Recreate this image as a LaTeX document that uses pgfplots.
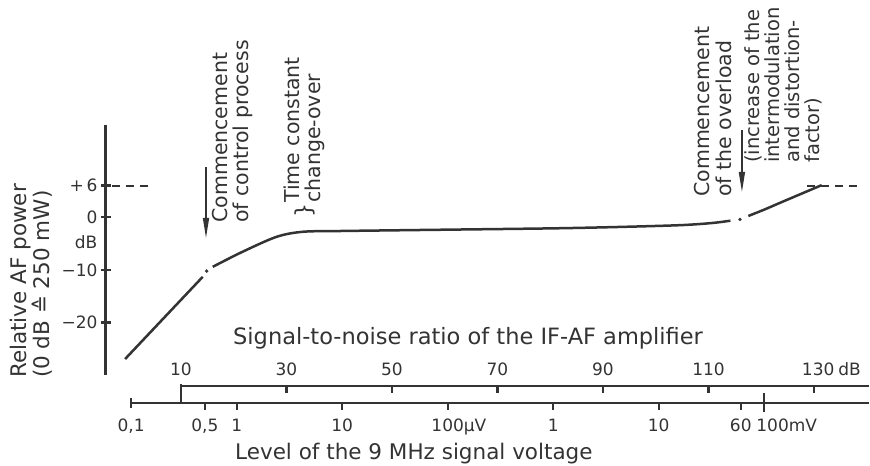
\documentclass[border=0pt]{standalone}
\usepackage{fontspec}
\setmainfont{DejaVu Sans}
\usepackage{pgfplots}
\pgfplotsset{compat=1.18}
\usetikzlibrary{arrows.meta}
\definecolor{ink}{HTML}{333333}
\begin{document}
\begin{tikzpicture}
\begin{axis}[
  x=105.5pt, y=5.27pt,
  xmin=-1.2389, xmax=6.003, ymin=-29.92, ymax=17.51,
  axis x line=none,
  axis y line*=left,
  axis line style={ink, line width=3pt},
  ytick={-20,-10,0,6},
  yticklabels={−20,−10,0,+\,6},
  tick align=center,
  major tick length=10pt,
  tick style={ink, line width=2.4pt},
  yticklabel style={font=\fontsize{17}{17}\selectfont, text=ink},
  clip=false,
]
% main curve
\addplot[ink, line width=2.5pt] coordinates {(-1.058,-26.9) (-0.322,-11.3)};
\addplot[ink, line width=2.5pt, smooth] coordinates {(-0.227,-9.4) (0.06,-6.5) (0.379,-3.7) (0.628,-2.75) (1.0,-2.6) (2.0,-2.35) (3.0,-2.1) (3.6,-1.85) (4.2,-1.5) (4.5,-1.1) (4.68,-0.65)};
\addplot[ink, line width=2.5pt, smooth] coordinates {(4.85,0.25) (5.0,1.45) (5.18,3.0) (5.545,6.1)};
\addplot[only marks, mark=*, mark size=1.5pt, ink] coordinates {(-0.284,-10.2) (4.77,-0.4)};
\addplot[ink, line width=1.8pt, dash pattern=on 8pt off 6pt] coordinates {(-1.182,6) (-0.793,6)};
\addplot[ink, line width=1.8pt, dash pattern=on 8pt off 6pt] coordinates {(5.406,6) (5.89,6)};

% y label
\node[rotate=90, anchor=west, align=left, inner sep=0pt, text=ink, font=\fontsize{21.5}{20}\selectfont]
  at (axis cs:-1.946,-30.53) {Relative AF power\\(0 dB ≙ 250 mW)};
\node[text=ink, font=\fontsize{17}{17}\selectfont] at (axis cs:-1.428,-4.69) {dB};

% annotations
\node[rotate=90, anchor=west, align=left, inner sep=0pt, text=ink, font=\fontsize{20.5}{21}\selectfont]
  at (axis cs:-0.040,-1.08) {Commencement\\of control process};
\node[rotate=90, anchor=west, align=left, inner sep=0pt, text=ink, font=\fontsize{20.5}{21}\selectfont]
  at (axis cs:0.643,2.71) {Time constant\\change-over};
\node[rotate=90, inner sep=0pt, text=ink, font=\fontsize{22}{22}\selectfont] at (axis cs:0.643,1.2) {\}};
\node[rotate=90, anchor=west, align=left, inner sep=0pt, text=ink, font=\fontsize{20.5}{22}\selectfont]
  at (axis cs:4.515,3.85) {Commencement\\of the overload};
\node[rotate=90, anchor=west, align=left, inner sep=0pt, text=ink, font=\fontsize{19.5}{20}\selectfont]
  at (axis cs:5.183,10.30) {(increase of the\\intermodulation\\and distortion-\\factor)};
\draw[ink, line width=1.5pt, -{Triangle[length=20pt,width=6pt]}] (axis cs:-0.291,9.53) -- (axis cs:-0.291,-3.93);
\draw[ink, line width=1.5pt, -{Triangle[length=20pt,width=6pt]}] (axis cs:4.789,16.55) -- (axis cs:4.789,4.80);

% signal-to-noise scale (dB)
\node[anchor=base west, inner sep=0pt, text=ink, font=\fontsize{22.5}{23}\selectfont]
  at (axis cs:-0.035,-24.2) {Signal-to-noise ratio of the IF-AF amplifier};
\draw[ink, line width=2.2pt] (axis cs:-0.528,-32.0) -- (axis cs:5.994,-32.0);
\draw[ink, line width=2.2pt] (axis cs:-0.528,-31.6) -- (axis cs:-0.528,-35.24);
\pgfplotsinvokeforeach{0.472,1.472,2.472,3.472,4.472,5.472}{
  \draw[ink, line width=2.2pt] (axis cs:#1,-32.0) -- (axis cs:#1,-33.4);
}
\begin{scope}[every node/.style={anchor=base, inner sep=0pt, text=ink, font=\fontsize{17}{17}\selectfont}]
\node at (axis cs:-0.528,-30.0) {10};
\node at (axis cs:0.472,-30.0) {30};
\node at (axis cs:1.472,-30.0) {50};
\node at (axis cs:2.472,-30.0) {70};
\node at (axis cs:3.472,-30.0) {90};
\node at (axis cs:4.472,-30.0) {110};
\node at (axis cs:5.512,-30.0) {130};
\node at (axis cs:5.81,-30.0) {dB};
\end{scope}

% voltage scale
\draw[ink, line width=2.2pt] (axis cs:-1.0,-35.24) -- (axis cs:5.994,-35.24);
\draw[ink, line width=2.2pt] (axis cs:-1.0,-34.3) -- (axis cs:-1.0,-36.2);
\pgfplotsinvokeforeach{-0.301,0,1,2,3,4,4.778}{
  \draw[ink, line width=2.2pt] (axis cs:#1,-35.24) -- (axis cs:#1,-36.6);
}
\draw[ink, line width=2.2pt] (axis cs:5,-33.4) -- (axis cs:5,-36.9);
\begin{scope}[every node/.style={anchor=base, inner sep=0pt, text=ink, font=\fontsize{17}{17}\selectfont}]
\node at (axis cs:-1.0,-40.74) {0,1};
\node at (axis cs:-0.301,-40.74) {0,5};
\node at (axis cs:0,-40.74) {1};
\node at (axis cs:1,-40.74) {10};
\node at (axis cs:2,-40.74) {100\rlap{µV}};
\node at (axis cs:3,-40.74) {1};
\node at (axis cs:4,-40.74) {10};
\node at (axis cs:4.778,-40.74) {60};
\node at (axis cs:5.08,-40.74) {100\rlap{mV}};
\end{scope}
\node[anchor=base west, inner sep=0pt, text=ink, font=\fontsize{21.5}{22}\selectfont]
  at (axis cs:-0.016,-46.0) {Level of the 9 MHz signal voltage};

\coordinate (BL) at (axis cs:-2.2436,-47.19);
\coordinate (TR) at (axis cs:6.003,41.23);
\end{axis}
\pgfresetboundingbox
\path[use as bounding box] (BL) rectangle (TR);
\end{tikzpicture}
\end{document}
